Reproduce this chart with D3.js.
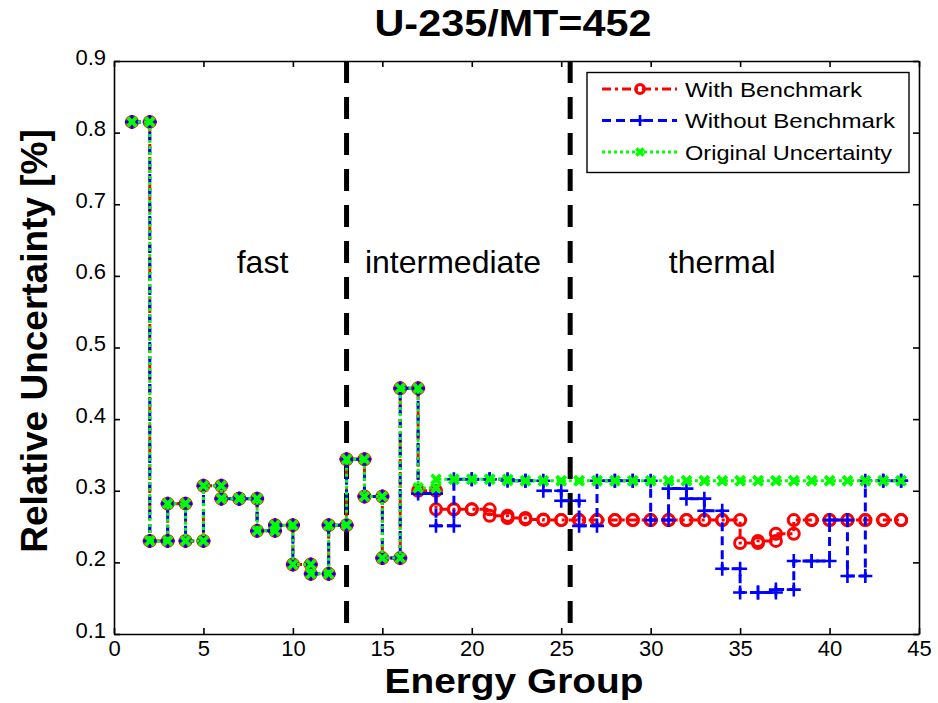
<!DOCTYPE html>
<meta charset="utf-8">
<script src="https://d3js.org/d3.v7.min.js"></script>
<style>
  body { margin: 0; background: #fff; }
  text { font-family: "Liberation Sans", Arial, Helvetica, sans-serif; }
</style>
<div id="chart"></div>
<script>

// energy groups (x) and the three uncertainty series (%)
const groups = [1, 2, 3, 4, 5, 6, 7, 8, 9, 10, 11, 12, 13, 14, 15, 16, 17, 18, 19, 20, 21, 22,
  23, 24, 25, 26, 27, 28, 29, 30, 31, 32, 33, 34, 35, 36, 37, 38, 39, 40, 41, 42, 43, 44];

const withBenchmark = [0.815, 0.230, 0.282, 0.230, 0.307, 0.289, 0.289, 0.244, 0.252, 0.197, 0.184,
  0.252, 0.344, 0.292, 0.206, 0.443, 0.300, 0.274, 0.274, 0.274, 0.265, 0.262, 0.260, 0.259,
  0.259, 0.259, 0.259, 0.259, 0.259, 0.259, 0.259, 0.259, 0.259, 0.259, 0.227, 0.230, 0.240,
  0.259, 0.259, 0.259, 0.259, 0.259, 0.259, 0.259];

const withoutBenchmark = [0.815, 0.230, 0.282, 0.230, 0.307, 0.289, 0.289, 0.244, 0.252, 0.197, 0.184,
  0.252, 0.344, 0.292, 0.206, 0.443, 0.296, 0.251, 0.316, 0.316, 0.316, 0.314, 0.314, 0.300,
  0.286, 0.251, 0.314, 0.314, 0.314, 0.259, 0.303, 0.289, 0.272, 0.191, 0.158, 0.158, 0.162,
  0.202, 0.202, 0.259, 0.181, 0.314, 0.314, 0.314];

const originalUnc = [0.815, 0.230, 0.282, 0.230, 0.307, 0.289, 0.289, 0.244, 0.252, 0.197, 0.184,
  0.252, 0.344, 0.292, 0.206, 0.443, 0.304, 0.316, 0.316, 0.316, 0.316, 0.314, 0.314, 0.314,
  0.314, 0.314, 0.314, 0.314, 0.314, 0.314, 0.314, 0.314, 0.314, 0.314, 0.314, 0.314, 0.314,
  0.314, 0.314, 0.314, 0.314, 0.314, 0.314, 0.314];

const xTicks = [0, 5, 10, 15, 20, 25, 30, 35, 40, 45];
const yTicks = [0.1, 0.2, 0.3, 0.4, 0.5, 0.6, 0.7, 0.8, 0.9];

// region boundaries and labels
const boundaries = [13, 25.5];
const regionNames = ["fast", "intermediate", "thermal"];
const regionX = [8.3, 18.95, 34.0];

const W = 938, H = 703;
const svg = d3.select("#chart").append("svg")
  .attr("width", W).attr("height", H);

const x = d3.scaleLinear().domain([0, 45]).range([114, 919]);
const y = d3.scaleLinear().domain([0.1, 0.9]).range([634, 61]);

// dashed region dividers (behind the data)
svg.selectAll(".divider")
  .data(boundaries)
  .join("line")
    .attr("class", "divider")
    .attr("x1", d => x(d)).attr("x2", d => x(d))
    .attr("y1", y(0.9)).attr("y2", y(0.1))
    .attr("stroke", "black")
    .attr("stroke-width", 5)
    .attr("stroke-dasharray", "22,14");

svg.selectAll(".region")
  .data(regionNames)
  .join("text")
    .attr("class", "region")
    .attr("x", (d, i) => x(regionX[i]))
    .attr("y", y(0.604))
    .attr("text-anchor", "middle")
    .attr("font-size", 32)
    .text(d => d);

// series definitions
const series = [
  {name: "With Benchmark", values: withBenchmark, color: "#ff0000", dash: "9,4,3,4", marker: "o"},
  {name: "Without Benchmark", values: withoutBenchmark, color: "#0000ff", dash: "9,5", marker: "+"},
  {name: "Original Uncertainty", values: originalUnc, color: "#00ff00", dash: "3,3", marker: "x"}
];

const stairs = d3.line()
  .x(d => x(d[0]))
  .y(d => y(d[1]))
  .curve(d3.curveStepAfter);

// all corners of a matlab stairs plot get a marker
function corners(vals) {
  const pts = [];
  vals.forEach((v, i) => {
    pts.push([groups[i], v]);
    if (i < vals.length - 1) pts.push([groups[i + 1], v]);
  });
  return pts;
}

function drawMarker(sel, s, small) {
  const k = small ? 0.8 : 1;
  if (s.marker === "o") {
    sel.append("circle").attr("r", 5.5 * k)
      .attr("fill", "none").attr("stroke", s.color).attr("stroke-width", 3);
  } else if (s.marker === "+") {
    sel.append("path").attr("d", `M${-7 * k},0H${7 * k}M0,${-7 * k}V${7 * k}`)
      .attr("fill", "none").attr("stroke", s.color).attr("stroke-width", 2.6);
  } else {
    const a = 4.5 * k;
    sel.append("path").attr("d", `M${-a},${-a}L${a},${a}M${-a},${a}L${a},${-a}`)
      .attr("fill", "none").attr("stroke", s.color).attr("stroke-width", 3.6);
  }
}

series.forEach(s => {
  const pts = s.values.map((v, i) => [groups[i], v]);
  svg.append("path")
    .datum(pts)
    .attr("d", stairs)
    .attr("fill", "none")
    .attr("stroke", s.color)
    .attr("stroke-width", 3)
    .attr("stroke-dasharray", s.dash);

  svg.append("g")
    .selectAll("g")
    .data(corners(s.values))
    .join("g")
      .attr("transform", d => `translate(${x(d[0])},${y(d[1])})`)
      .each(function() { drawMarker(d3.select(this), s, false); });
});

// axes, ticks pointing inward on all four sides
const fontAxis = g => g.selectAll("text")
  .attr("font-size", 22)
  .attr("font-family", "Liberation Sans, Arial, sans-serif")
  .attr("fill", "black");

svg.append("g")
  .attr("transform", `translate(0,${y(0.1)})`)
  .call(d3.axisBottom(x).tickValues(xTicks).tickSizeInner(-6).tickSizeOuter(0).tickPadding(6))
  .call(fontAxis);

svg.append("g")
  .attr("transform", `translate(0,${y(0.9)})`)
  .call(d3.axisTop(x).tickValues(xTicks).tickSizeInner(-6).tickSizeOuter(0).tickFormat(""));

const yAxis = svg.append("g")
  .attr("transform", `translate(${x(0)},0)`)
  .call(d3.axisLeft(y).tickValues(yTicks).tickSizeInner(-6).tickSizeOuter(0).tickPadding(8)
    .tickFormat(d3.format(".1f")))
  .call(fontAxis);
yAxis.selectAll("text").attr("dy", "0.14em");

svg.append("g")
  .attr("transform", `translate(${x(45)},0)`)
  .call(d3.axisRight(y).tickValues(yTicks).tickSizeInner(-6).tickSizeOuter(0).tickFormat(""));

svg.selectAll(".domain, .tick line").attr("stroke", "black").attr("stroke-width", 1.6);

// legend
const legend = svg.append("g");
legend.append("rect")
  .attr("x", 587).attr("y", 72.5)
  .attr("width", 322).attr("height", 100)
  .attr("fill", "white").attr("stroke", "black").attr("stroke-width", 1.4);

const legendLen = [177, 210, 207];
series.forEach((s, i) => {
  const cy = 89 + i * 31.5;
  legend.append("line")
    .attr("x1", 602).attr("x2", 677)
    .attr("y1", cy).attr("y2", cy)
    .attr("stroke", s.color).attr("stroke-width", 3)
    .attr("stroke-dasharray", s.dash);
  const m = legend.append("g").attr("transform", `translate(640,${cy})`);
  drawMarker(m, s, true);
  legend.append("text")
    .attr("x", 685).attr("y", cy + 7.5)
    .attr("font-size", 21)
    .attr("textLength", legendLen[i])
    .attr("lengthAdjust", "spacingAndGlyphs")
    .text(s.name);
});

// titles
svg.append("text")
  .attr("x", 513).attr("y", 36)
  .attr("text-anchor", "middle")
  .attr("font-size", 36).attr("font-weight", "bold")
  .attr("textLength", 277).attr("lengthAdjust", "spacingAndGlyphs")
  .text("U-235/MT=452");

svg.append("text")
  .attr("x", 514).attr("y", 693)
  .attr("text-anchor", "middle")
  .attr("font-size", 35).attr("font-weight", "bold")
  .attr("textLength", 259).attr("lengthAdjust", "spacingAndGlyphs")
  .text("Energy Group");

svg.append("text")
  .attr("transform", "translate(47,341) rotate(-90)")
  .attr("text-anchor", "middle")
  .attr("font-size", 37).attr("font-weight", "bold")
  .text("Relative Uncertainty [%]");

</script>
